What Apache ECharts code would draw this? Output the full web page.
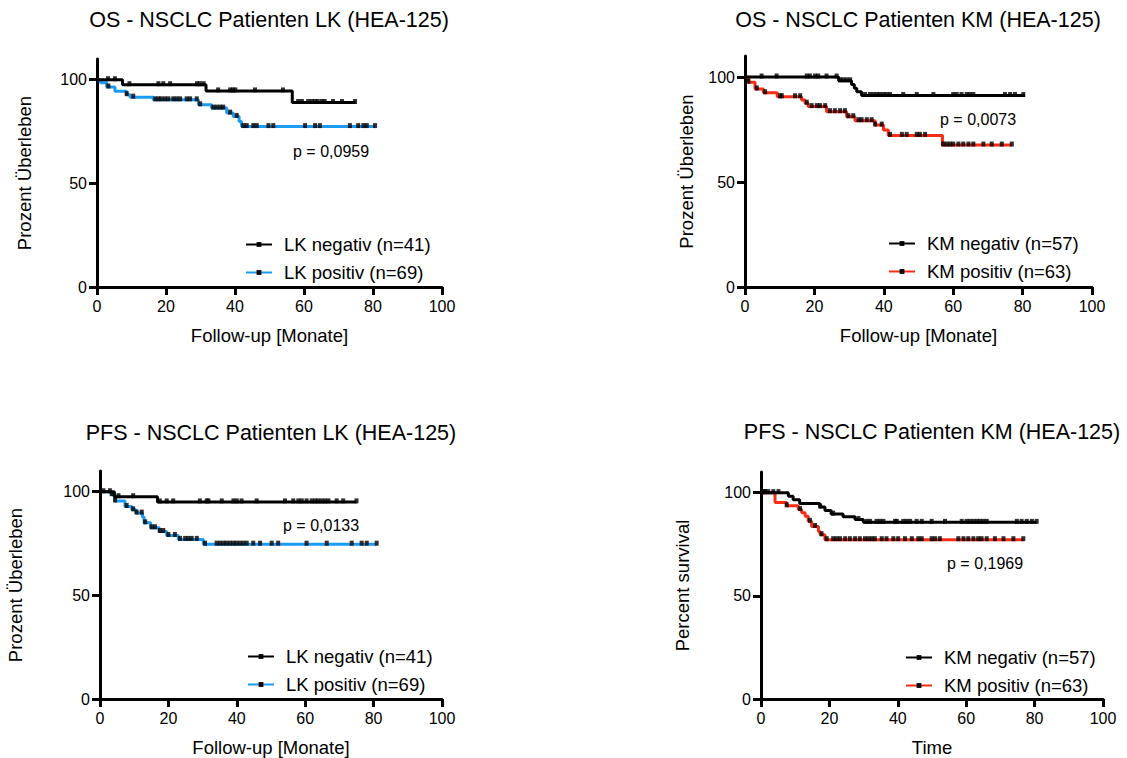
<!DOCTYPE html>
<html><head><meta charset="utf-8">
<script src="https://cdn.jsdelivr.net/npm/echarts@6/dist/echarts.min.js"></script>
<style>html,body{margin:0;padding:0;background:#fff}#c{width:1127px;height:758px}</style>
</head><body><div id="c"></div>
<script>
// ---------- DATA ----------
const xTicks = [0, 20, 40, 60, 80, 100];
const yTicks = [0, 50, 100];

// Panel 1: OS - LK
const osLkNegT = [0, 7.4, 31.6, 56.6, 75];
const osLkNegS = [100, 97.6, 94.6, 89.0, 89.0];
const osLkNegCens = [3.2, 5.2, 9.4, 17.8, 19.2, 21.2, 29.0, 29.8, 30.9, 35.1, 38.6, 39.4, 40.1, 45.8, 53.9, 58.3, 59.4, 61.2, 62.3, 63.2, 64.0, 65.2, 66.0, 68.4, 71.0, 74.8];
const osLkPosT = [0, 1, 2.8, 5.2, 8.6, 9.6, 16.3, 29.4, 33.2, 37.6, 39.5, 41.2, 41.9, 80.6];
const osLkPosS = [100, 98.6, 96.5, 94.4, 92.8, 91.6, 90.3, 87.9, 86.3, 83.9, 82.3, 79.9, 77.4, 77.4];
const osLkPosCens = [3.3, 8.6, 10.5, 16.9, 17.8, 18.6, 19.7, 20.7, 22.1, 23.1, 24.1, 26, 27, 28.9, 29.9, 33.7, 34.7, 35.7, 36.6, 38.6, 40.5, 42.4, 43.4, 45.3, 46.3, 49.7, 51.1, 60.3, 63.2, 64.6, 73.3, 75.7, 77.2, 78.2, 80.6];

// Panel 2: OS - KM
const osKmNegT = [0, 27, 30.7, 31.5, 32.2, 33.6, 80.7];
const osKmNegS = [100, 98.2, 96.4, 94.6, 93.0, 91.2, 91.2];
const osKmNegCens = [4.8, 9.1, 17.8, 18.7, 20.2, 21.1, 23.5, 26.4, 27.4, 28.3, 29.3, 30.3, 34.6, 36, 37, 38, 38.9, 39.9, 40.8, 41.8, 45.6, 49.5, 54.3, 60, 61, 62.4, 63.9, 64.8, 65.8, 74.9, 76.4, 77.8, 80.2];
const osKmPosT = [0, 1, 2.9, 5.3, 9.3, 16.3, 17.3, 18.2, 23.5, 29.3, 31.7, 37.5, 39.9, 41.3, 56.9, 76.9];
const osKmPosS = [100, 97.5, 94.3, 92.5, 90.6, 89.0, 87.5, 85.9, 83.5, 81.1, 79.2, 77.1, 74.8, 72.2, 67.6, 67.6];
const osKmPosCens = [1, 3.4, 5.8, 10.1, 10.6, 14.4, 15.9, 17.8, 19.2, 20.7, 21.6, 23.1, 24.5, 25.9, 27.4, 28.8, 29.8, 31.2, 32.7, 33.6, 35.1, 36.5, 37.5, 39.4, 41.8, 45.2, 46.6, 49.5, 50.4, 51.9, 57.1, 58.1, 59.1, 60, 61.5, 62.9, 64.4, 65.8, 68.7, 71.1, 74, 76.9];

// Panel 3: PFS - LK
const pfsLkNegT = [0, 4.2, 16.8, 75];
const pfsLkNegS = [100, 97.6, 95.1, 95.1];
const pfsLkNegCens = [1, 2.9, 5.4, 9.7, 17.5, 19.5, 21.4, 29.2, 31.2, 31.7, 35.6, 39, 40, 41.4, 45.8, 54.1, 56.5, 58, 59, 60.4, 61.9, 62.9, 63.8, 64.8, 65.8, 66.8, 69.2, 71.1, 75];
const pfsLkPosT = [0, 3.4, 4.4, 7.3, 9.3, 10.5, 12.4, 12.9, 14.8, 17.3, 19.5, 22.9, 30.2, 80.9];
const pfsLkPosS = [100, 98.6, 95.5, 92.9, 91.3, 89.7, 87.8, 85.0, 82.6, 80.8, 78.9, 77.0, 74.7, 74.7];
const pfsLkPosCens = [3.4, 4.4, 7.8, 9.7, 10.7, 12.2, 13.2, 15.1, 16.1, 17.5, 18.5, 20, 21.9, 23.4, 24.9, 25.8, 26.8, 28.3, 30.7, 34.1, 35.1, 36.1, 37, 38, 39, 39.9, 40.9, 41.9, 42.9, 44.8, 46.8, 50.2, 52.1, 60.4, 66.3, 73.6, 76.5, 78, 80.9];

// Panel 4: PFS - KM
const pfsKmNegT = [0, 8, 9.4, 11.3, 17.2, 18.7, 20.5, 24, 27.5, 29.9, 80.6];
const pfsKmNegS = [100, 98.2, 96.5, 94.7, 93.0, 91.3, 89.6, 88.3, 87.0, 85.6, 85.6];
const pfsKmNegCens = [1.2, 2.1, 3.6, 5.1, 17.3, 21.1, 28.5, 30.9, 31.9, 33.8, 34.8, 35.8, 39.2, 39.7, 41.6, 42.6, 43.6, 45.5, 47, 49.9, 53.8, 58.7, 60.1, 61.1, 62.1, 63.1, 64, 65, 66, 74.8, 76.2, 77.7, 79.2, 80.6];
const pfsKmPosT = [0, 4.1, 7.5, 10.9, 11.9, 12.9, 13.8, 14.8, 16.8, 17.3, 18.7, 76.7];
const pfsKmPosS = [100, 95.2, 93.6, 91.8, 90.2, 88.5, 86.1, 83.6, 81.2, 79.6, 77.2, 77.2];
const pfsKmPosCens = [1.1, 7.5, 11.4, 14.3, 15.8, 17.7, 19.2, 21.1, 22.1, 23.1, 24.6, 26, 27.5, 28.9, 30.4, 31.4, 32.4, 33.3, 35.3, 36.7, 38.7, 40.1, 42.1, 44.1, 46, 47, 49.9, 50.9, 52.3, 57.7, 59.2, 60.6, 62.1, 63.5, 64.5, 66, 68.4, 70.9, 73.8, 76.7];

const titles = ['OS - NSCLC Patienten LK (HEA-125)', 'OS - NSCLC Patienten KM (HEA-125)', 'PFS - NSCLC Patienten LK (HEA-125)', 'PFS - NSCLC Patienten KM (HEA-125)'];
const pValues = ['p = 0,0959', 'p = 0,0073', 'p = 0,0133', 'p = 0,1969'];
const xNames = ['Follow-up [Monate]', 'Follow-up [Monate]', 'Follow-up [Monate]', 'Time'];
const yNames = ['Prozent Überleben', 'Prozent Überleben', 'Prozent Überleben', 'Percent survival'];
const negNames = ['LK negativ (n=41)', 'KM negativ (n=57)', 'LK negativ (n=41)', 'KM negativ (n=57)'];
const posNames = ['LK positiv (n=69)', 'KM positiv (n=63)', 'LK positiv (n=69)', 'KM positiv (n=63)'];

// ---------- LAYOUT ----------
const FONT = '"Liberation Sans", Arial, Helvetica, sans-serif';
const BLUE = '#1a9bf4';
const RED = '#fb2c14';
const panels = [
  {grid:{left:97, top:59, width:345, height:228}, yGap:63, title:[269,20], p:[293,151], legend:[245,235],
   neg:[osLkNegT, osLkNegS, osLkNegCens], pos:[osLkPosT, osLkPosS, osLkPosCens], col:BLUE},
  {grid:{left:745, top:56, width:347, height:231}, yGap:49, title:[918,20], p:[940,119], legend:[888,234],
   neg:[osKmNegT, osKmNegS, osKmNegCens], pos:[osKmPosT, osKmPosS, osKmPosCens], col:RED},
  {grid:{left:100, top:471, width:342, height:228}, yGap:75, title:[271,433], p:[283,525], legend:[247,647],
   neg:[pfsLkNegT, pfsLkNegS, pfsLkNegCens], pos:[pfsLkPosT, pfsLkPosS, pfsLkPosCens], col:BLUE},
  {grid:{left:761, top:472, width:342, height:227}, yGap:69, title:[932,432], p:[947,563], legend:[905,648],
   neg:[pfsKmNegT, pfsKmNegS, pfsKmNegCens], pos:[pfsKmPosT, pfsKmPosS, pfsKmPosCens], col:RED}
];

function levelAt(ts, ss, t) { let v = ss[0]; for (let i = 0; i < ts.length; i++) { if (ts[i] <= t) v = ss[i]; } return v; }
function zip(ts, ss) { return ts.map((t, i) => [t, ss[i]]); }
function cens(ts, ss, cs) { return cs.map(t => [t, levelAt(ts, ss, t)]); }

const grid = [], xAxis = [], yAxis = [], series = [], legend = [], graphic = [];
panels.forEach((pn, i) => {
  grid.push(pn.grid);
  const axisCommon = {
    gridIndex: i, type: 'value',
    axisLine: {show: true, onZero: false, lineStyle: {color: '#000', width: 3}},
    splitLine: {show: false},
    nameLocation: 'middle',
    nameTextStyle: {fontSize: 18.5, color: '#000', fontFamily: FONT}
  };
  xAxis.push(Object.assign({}, axisCommon, {
    min: 0, max: 100, interval: 20, name: xNames[i], nameGap: 39,
    axisTick: {show: true, length: 8, customValues: xTicks, lineStyle: {color: '#000', width: 3}},
    axisLabel: {fontSize: 16, color: '#000', fontFamily: FONT, margin: 11, customValues: xTicks}
  }));
  yAxis.push(Object.assign({}, axisCommon, {
    min: 0, max: 110, interval: 50, name: yNames[i], nameGap: pn.yGap,
    axisTick: {show: true, length: 8, customValues: yTicks, lineStyle: {color: '#000', width: 3}},
    axisLabel: {fontSize: 16, color: '#000', fontFamily: FONT, margin: 10, customValues: yTicks}
  }));
  series.push({
    type: 'line', name: posNames[i], xAxisIndex: i, yAxisIndex: i, step: 'end',
    data: zip(pn.pos[0], pn.pos[1]), symbol: 'rect', symbolSize: [3, 5], symbolOffset: [0, -2], showSymbol: false,
    lineStyle: {color: pn.col, width: 3}, itemStyle: {color: '#000'}, z: 2, silent: true
  });
  series.push({
    type: 'line', name: negNames[i], xAxisIndex: i, yAxisIndex: i, step: 'end',
    data: zip(pn.neg[0], pn.neg[1]), symbol: 'rect', symbolSize: [3, 5], symbolOffset: [0, -2], showSymbol: false,
    lineStyle: {color: '#000', width: 3}, itemStyle: {color: '#000'}, z: 3, silent: true
  });
  series.push({
    type: 'scatter', name: 'cens-pos-' + i, xAxisIndex: i, yAxisIndex: i,
    data: cens(pn.pos[0], pn.pos[1], pn.pos[2]), symbol: 'rect', symbolSize: [4, 5], symbolOffset: [0, -1],
    itemStyle: {color: '#000'}, z: 4, silent: true
  });
  series.push({
    type: 'scatter', name: 'cens-neg-' + i, xAxisIndex: i, yAxisIndex: i,
    data: cens(pn.neg[0], pn.neg[1], pn.neg[2]), symbol: 'rect', symbolSize: [4, 5], symbolOffset: [0, -1],
    itemStyle: {color: '#000'}, z: 4, silent: true
  });
  legend.push({
    orient: 'vertical', left: pn.legend[0], top: pn.legend[1], padding: 0, itemWidth: 26, itemHeight: 6, itemGap: 9,
    selectedMode: false, data: [negNames[i], posNames[i]],
    textStyle: {fontSize: 18.5, color: '#000', fontFamily: FONT, padding: [0, 0, 0, 7]}
  });
  graphic.push({type: 'text', x: pn.title[0], y: pn.title[1], silent: true,
    style: {text: titles[i], fill: '#000', font: '21.5px ' + FONT, textAlign: 'center', textVerticalAlign: 'middle'}});
  graphic.push({type: 'text', x: pn.p[0], y: pn.p[1], silent: true,
    style: {text: pValues[i], fill: '#000', font: '16px ' + FONT, textAlign: 'left', textVerticalAlign: 'middle'}});
});

const chart = echarts.init(document.getElementById('c'), null, {renderer: 'svg'});
chart.setOption({animation: false, backgroundColor: '#fff', grid, xAxis, yAxis, series, legend, graphic});
</script></body></html>
